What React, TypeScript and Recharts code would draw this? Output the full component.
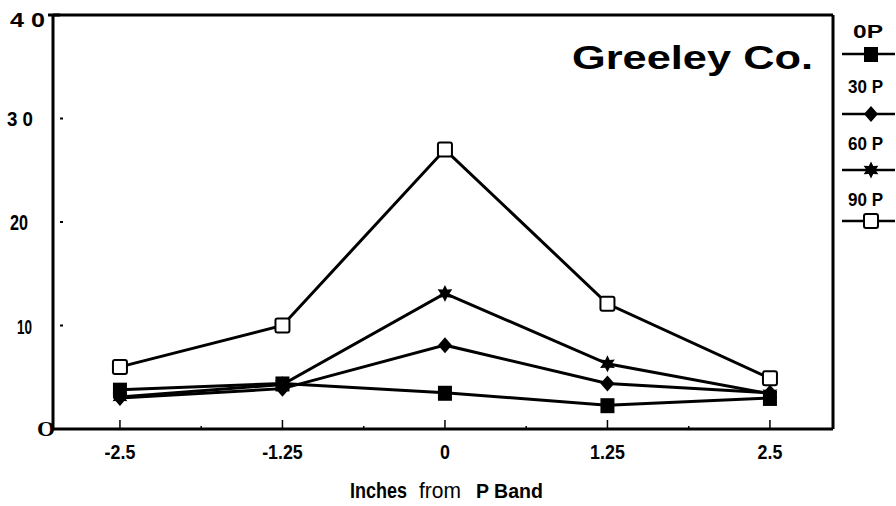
import { LineChart, Line, XAxis, YAxis, ReferenceLine } from 'recharts';

// 距 P 带的距离（英寸）
const positions = [-2.5, -1.25, 0, 1.25, 2.5];

// 各施磷水平的数值
const p0 = [3.8, 4.4, 3.5, 2.3, 3.0];
const p30 = [3.0, 3.9, 8.1, 4.4, 3.5];
const p60 = [3.1, 4.3, 13.1, 6.3, 3.4];
const p90 = [6.0, 10.0, 27.0, 12.1, 4.9];

const seriesNames = ['0P', '30 P', '60 P', '90 P'];
const seriesKeys = ['p0', 'p30', 'p60', 'p90'];

const xTicks = [-2.5, -1.875, -1.25, -0.625, 0, 0.625, 1.25, 1.875, 2.5];
const xTickLabels = ['-2.5', '-1.25', '0', '1.25', '2.5'];
const yTicks = [0, 10, 20, 30, 40];
const yTickLabels = ['O', '10', '20', '3 0', '4 0'];

const data = positions.map((x, i) => ({
  x,
  p0: p0[i],
  p30: p30[i],
  p60: p60[i],
  p90: p90[i],
}));

const FONT = '"Liberation Sans", Arial, sans-serif';
const SHAPES = ['square', 'diamond', 'star', 'open'];

/** 标记符号 */
function Marker({ cx, cy, shape }: { cx: number; cy: number; shape: string }) {
  if (shape === 'square') {
    return <rect x={cx - 7} y={cy - 7} width={14} height={15} fill="#000" />;
  }
  if (shape === 'diamond') {
    return (
      <polygon
        points={`${cx},${cy - 8} ${cx + 7},${cy} ${cx},${cy + 8} ${cx - 7},${cy}`}
        fill="#000"
      />
    );
  }
  if (shape === 'star') {
    const pts: string[] = [];
    for (let k = 0; k < 12; k++) {
      const r = k % 2 === 0 ? 8.5 : 4.5;
      const a = (Math.PI / 6) * k - Math.PI / 2;
      pts.push(`${cx + r * Math.cos(a)},${cy + r * Math.sin(a)}`);
    }
    return <polygon points={pts.join(' ')} fill="#000" />;
  }
  return (
    <rect
      x={cx - 7}
      y={cy - 7}
      width={14}
      height={14}
      rx={2}
      fill="#fff"
      stroke="#000"
      strokeWidth={2}
    />
  );
}

/** X 轴刻度 */
function XTick(props: any) {
  const { x, y, payload } = props;
  const idx = positions.indexOf(payload.value);
  if (idx < 0) {
    return <line x1={x} x2={x} y1={y - 3} y2={y} stroke="#000" strokeWidth={1.5} />;
  }
  return (
    <g>
      <line x1={x} x2={x} y1={y - 9} y2={y} stroke="#000" strokeWidth={1.5} />
      <g transform={`translate(${x},${y + 30}) scale(0.85,1)`}>
        <text
          x={0}
          y={0}
          textAnchor="middle"
          fontFamily={FONT}
          fontWeight="bold"
          fontSize={21}
          fill="#000"
        >
          {xTickLabels[idx]}
        </text>
      </g>
    </g>
  );
}

// Y 轴标签的位置微调（扫描稿里每个都不一样）
const Y_LABEL_LAYOUT = [
  { left: 37, len: 18, size: 20, serif: true, dy: 7 },
  { left: 17, len: 15, size: 21, serif: false, dy: 8 },
  { left: 10, len: 18, size: 22, serif: false, dy: 8 },
  { left: 7, len: 26, size: 20, serif: false, dy: 7 },
  { left: 10, len: 35, size: 20, serif: false, dy: 12 },
];

/** Y 轴刻度 */
function YTick(props: any) {
  const { x, y, payload } = props;
  const idx = yTicks.indexOf(payload.value);
  const lay = Y_LABEL_LAYOUT[idx];
  return (
    <g>
      {idx > 0 && idx < 4 && (
        <line x1={x + 7} x2={x + 10} y1={y} y2={y} stroke="#000" strokeWidth={2} />
      )}
      <text
        x={lay.left}
        y={y + lay.dy}
        textLength={lay.len}
        lengthAdjust="spacingAndGlyphs"
        fontFamily={lay.serif ? '"Liberation Serif", serif' : FONT}
        fontWeight="bold"
        fontSize={lay.size}
        fill="#000"
      >
        {yTickLabels[idx]}
      </text>
    </g>
  );
}

/** 图例 + 标题 + 轴标题 叠加层 */
function Overlay() {
  const legendText = [31, 86, 143, 199];
  const legendLine = [54, 114, 170, 221];
  return (
    <svg
      width={896}
      height={506}
      style={{ position: 'absolute', left: 0, top: 0, pointerEvents: 'none' }}
    >
      <line x1={48} x2={60} y1={15} y2={15} stroke="#000" strokeWidth={3} />
      <text
        x={572}
        y={69}
        textLength={241}
        lengthAdjust="spacingAndGlyphs"
        fontFamily={FONT}
        fontWeight="bold"
        fontSize={34}
        fill="#000"
      >
        Greeley Co.
      </text>
      {seriesNames.map((name, i) => (
        <g key={name}>
          <text
            x={i === 0 ? 853 : 848}
            y={legendText[i] + 7}
            textLength={i === 0 ? 30 : 35}
            lengthAdjust="spacingAndGlyphs"
            fontFamily={FONT}
            fontWeight="bold"
            fontSize={18}
            fill="#000"
          >
            {name}
          </text>
          <line x1={842} x2={895} y1={legendLine[i]} y2={legendLine[i]} stroke="#000" strokeWidth={2.5} />
          <Marker cx={871} cy={legendLine[i]} shape={SHAPES[i]} />
        </g>
      ))}
      <text
        x={350}
        y={498}
        textLength={57}
        lengthAdjust="spacingAndGlyphs"
        fontFamily={FONT}
        fontWeight="bold"
        fontSize={22}
        fill="#000"
      >
        Inches
      </text>
      <text
        x={419}
        y={498}
        textLength={42}
        lengthAdjust="spacingAndGlyphs"
        fontFamily={FONT}
        fontSize={22}
        fill="#000"
      >
        from
      </text>
      <text
        x={476}
        y={498}
        textLength={67}
        lengthAdjust="spacingAndGlyphs"
        fontFamily={FONT}
        fontWeight="bold"
        fontSize={21}
        fill="#000"
      >
        P Band
      </text>
    </svg>
  );
}

export default function App() {
  return (
    <div style={{ position: 'absolute', left: 0, top: 0, width: 896, height: 506, background: '#fff' }}>
      <LineChart
        width={896}
        height={506}
        data={data}
        margin={{ top: 15, right: 63, left: 0, bottom: 0 }}
      >
        <XAxis
          dataKey="x"
          type="number"
          domain={[-3.015, 2.985]}
          ticks={xTicks}
          interval={0}
          height={77}
          tickSize={0}
          tickMargin={0}
          tickLine={false}
          axisLine={{ stroke: '#000', strokeWidth: 3 }}
          tick={(p: any) => <XTick {...p} />}
        />
        <YAxis
          type="number"
          domain={[0, 40]}
          ticks={yTicks}
          interval={0}
          width={53}
          tickSize={0}
          tickMargin={0}
          tickLine={false}
          axisLine={{ stroke: '#000', strokeWidth: 3 }}
          tick={(p: any) => <YTick {...p} />}
        />
        <ReferenceLine y={40} stroke="#000" strokeWidth={3} />
        <ReferenceLine x={2.985} stroke="#000" strokeWidth={3} />
        {seriesKeys.map((key, i) => (
          <Line
            key={key}
            dataKey={key}
            name={seriesNames[i]}
            stroke="#000"
            strokeWidth={3}
            isAnimationActive={false}
            dot={(p: any) => (
              <Marker key={`${key}-${p.index}`} cx={p.cx} cy={p.cy} shape={SHAPES[i]} />
            )}
          />
        ))}
      </LineChart>
      <Overlay />
    </div>
  );
}
